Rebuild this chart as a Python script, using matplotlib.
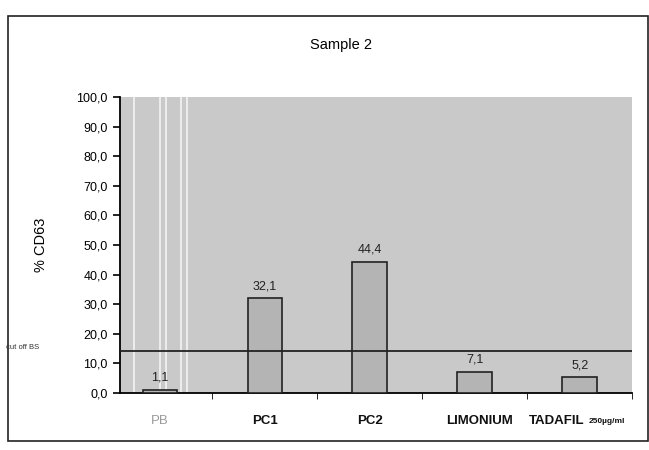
import matplotlib
matplotlib.use("Agg")
import matplotlib.pyplot as plt
from matplotlib.patches import Rectangle
import numpy as np

plt.rcParams['font.family'] = ['Liberation Sans', 'DejaVu Sans']

categories = ['PB', 'PC1', 'PC2', 'LIMONIUM', 'TADAFIL']
values = [1.1, 32.1, 44.4, 7.1, 5.2]
value_labels = ['1,1', '32,1', '44,4', '7,1', '5,2']
yticks = [0, 10, 20, 30, 40, 50, 60, 70, 80, 90, 100]
cutoff = 14.0

fig = plt.figure(figsize=(6.49, 4.5), dpi=100)
fig.patch.set_facecolor('white')

# outer chart frame
fig.add_artist(Rectangle((0.013, 0.02), 0.985, 0.945, transform=fig.transFigure,
                         fill=False, edgecolor='#222222', linewidth=1.2))

ax = fig.add_axes([0.185, 0.127, 0.789, 0.657])
ax.set_facecolor('#c9c9c9')

x = np.arange(len(categories))
ax.bar(x, values, width=0.33, color='#b4b4b4', edgecolor='#222222', linewidth=1.2, zorder=3)

# scan streaks around PB
for xs in [-0.25, 0.0, 0.06, 0.2, 0.26]:
    ax.axvline(xs, color='#f0f0f0', linewidth=1.3, zorder=2)

ax.axhline(cutoff, color='#222222', linewidth=1.3, zorder=4)

for xi, v, lab in zip(x, values, value_labels):
    ax.text(xi, v + 2.0, lab, ha='center', va='bottom', fontsize=9, color='#222222', zorder=5)

ax.set_xlim(-0.38, 4.45)
ax.set_ylim(0, 100)
ax.set_yticks(yticks)
ax.set_yticklabels([f'{t},0' for t in yticks], fontsize=9)
ax.set_xticks(x)
ax.set_xticklabels([])
ax.set_xticks(np.arange(len(categories)) + 0.5, minor=True)
ax.tick_params(axis='x', which='major', length=0)
ax.tick_params(axis='x', which='minor', length=4, direction='out')
ax.tick_params(axis='y', length=5, direction='out', width=1.2, pad=4)

label_colors = ['#9a9a9a', '#111111', '#111111', '#111111', '#111111']
label_x = [0, 1, 2, 3.05, 4.05]
label_ha = ['center', 'center', 'center', 'center', 'right']
for xi, lab, c, ha in zip(label_x, categories, label_colors, label_ha):
    ax.text(xi, -7.5, lab, ha=ha, va='top', fontsize=9.5, color=c,
            fontweight='bold' if xi > 0 else 'normal')
ax.text(4.09, -8.6, '250µg/ml', ha='left', va='top', fontsize=6, fontweight='bold', color='#111111')

for s in ['top', 'right']:
    ax.spines[s].set_visible(False)
ax.spines['left'].set_linewidth(1.3)
ax.spines['bottom'].set_linewidth(1.3)

ax.set_ylabel('% CD63', fontsize=10.5, labelpad=20)
fig.text(0.525, 0.9, 'Sample 2', ha='center', va='center', fontsize=10.5)
fig.text(0.01, 0.228, 'cut off BS', ha='left', va='center', fontsize=5.5, color='#333333')

fig.savefig('out.png', dpi=100)
